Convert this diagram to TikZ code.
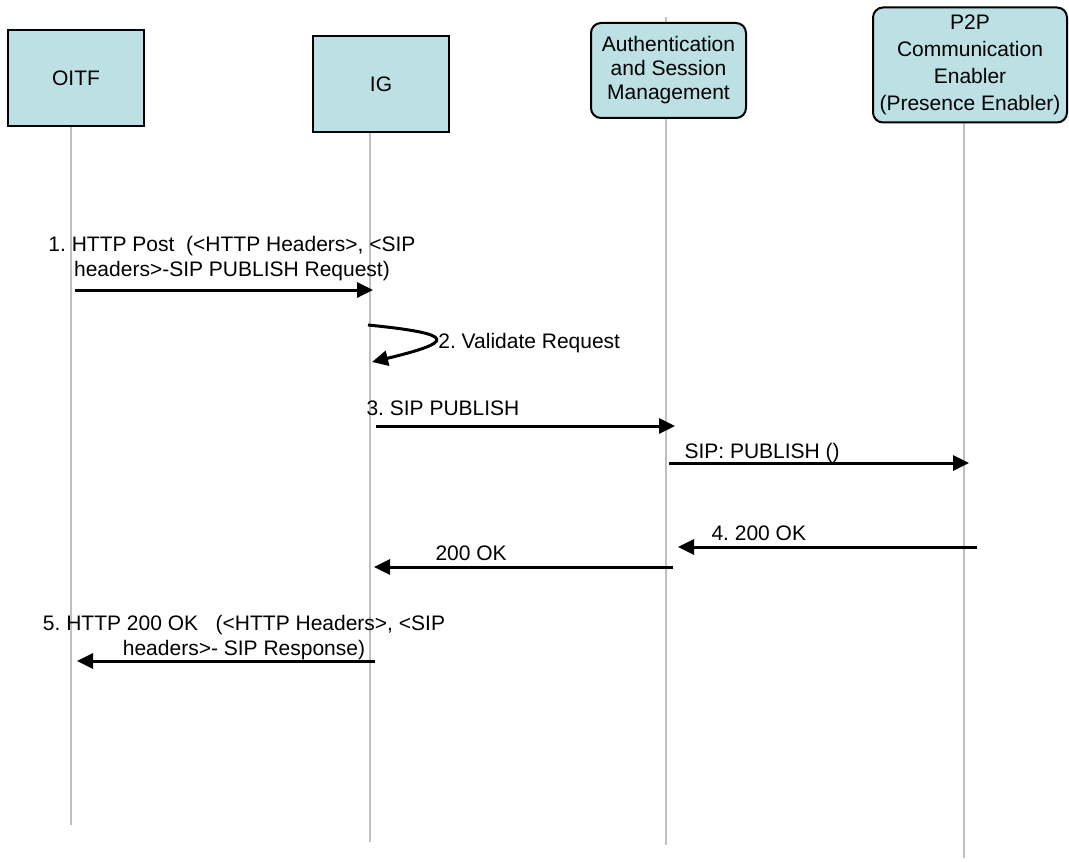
\documentclass[tikz,border=0pt]{standalone}
\usepackage{fontspec}
\setmainfont{Liberation Sans}
\usepackage{tikz}
\usetikzlibrary{positioning}
\usetikzlibrary{arrows.meta}

\definecolor{boxblue}{RGB}{188,224,227}
\definecolor{lifegray}{RGB}{192,192,192}

\begin{document}
\frenchspacing
\begin{tikzpicture}[x=0.5pt, y=-0.5pt,
      every node/.style={font=\fontsize{10.5pt}{12.5pt}\selectfont},
      entity/.style={draw, line width=1pt, fill=boxblue, align=center, inner sep=1pt},
      life/.style={draw=lifegray, line width=1pt},
      msg/.style={-{Triangle[length=8pt, width=7.5pt]}, line width=1.5pt},
      lbl/.style={align=center, inner sep=0pt}]

      \useasboundingbox (0,0) rectangle (1069,861);

      \coordinate (oitf-top) at (70.5,78);
      \coordinate (oitf-end) at (70.5,825);
      \coordinate (ig-top) at (370,83);
      \coordinate (ig-end) at (370,842);
      \coordinate (asm-top) at (666,17);
      \coordinate (asm-end) at (666,845);
      \coordinate (p2p-top) at (964,63);
      \coordinate (p2p-end) at (964,858);

      \draw[life] (oitf-top) -- (oitf-end);
      \draw[life] (ig-top) -- (ig-end);
      \draw[life] (asm-top) -- (asm-end);
      \draw[life] (p2p-top) -- (p2p-end);

      \node[entity, minimum width=68pt, minimum height=48pt] (oitf) at (76,78) {OITF};

      \node[entity, minimum width=68pt, minimum height=48pt] (ig) at (381,84) {IG};

      \node[entity, rounded corners=5pt, minimum width=77.5pt, minimum height=47.5pt,
            font=\fontsize{10.5pt}{12pt}\selectfont] (asm) at (668.5,70.5)
            {Authentication\\and Session\\Management};

      \node[entity, rounded corners=5pt, minimum width=97pt, minimum height=57.5pt,
            font=\fontsize{10.5pt}{13.5pt}\selectfont] (p2p) at (970,65)
            {P2P\\Communication\\Enabler\\(Presence Enabler)};

      \coordinate (m1-s) at (75,290);
      \coordinate (m1-e) at (373,290);
      \draw[msg] (m1-s) -- node[lbl, above=4pt, xshift=4pt] (l1)
            {1. HTTP Post\ \ (<HTTP Headers>, <SIP\\headers>-SIP PUBLISH Request)} (m1-e);

      \coordinate (m2-s) at (368,325);
      \coordinate (m2-e) at (372,362);
      \draw[msg] (m2-s) .. controls (458,334) and (455,342) .. node[lbl, pos=0.5, anchor=west, xshift=1pt, yshift=-2pt] (l2) {2. Validate Request} (m2-e);

      \coordinate (m3-s) at (376,426);
      \coordinate (m3-e) at (675,426);
      \draw[msg] (m3-s) -- node[lbl, pos=0, anchor=base west, xshift=-5.5pt, yshift=5.25pt] (l3) {3. SIP PUBLISH} (m3-e);

      \coordinate (mp-s) at (669,463);
      \coordinate (mp-e) at (969,463);
      \draw[msg] (mp-s) -- node[lbl, pos=0, anchor=base west, xshift=7pt, yshift=2.25pt] (lp) {SIP: PUBLISH ()} (mp-e);

      \coordinate (m4-s) at (977,547);
      \coordinate (m4-e) at (678,547);
      \draw[msg] (m4-s) -- node[lbl, pos=1, anchor=base west, xshift=16pt, yshift=3.25pt] (l4) {4. 200 OK} (m4-e);

      \coordinate (mk-s) at (673,567);
      \coordinate (mk-e) at (374,567);
      \draw[msg] (mk-s) -- node[lbl, pos=1, anchor=base west, xshift=30pt, yshift=3.25pt] (lk) {200 OK} (mk-e);

      \coordinate (m5-s) at (375,661);
      \coordinate (m5-e) at (77,661);
      \draw[msg] (m5-s) -- node[lbl, above=0pt, xshift=9pt] (l5)
            {5. HTTP 200 OK\ \ \ (<HTTP Headers>, <SIP\\headers>- SIP Response)} (m5-e);

\end{tikzpicture}
\end{document}
